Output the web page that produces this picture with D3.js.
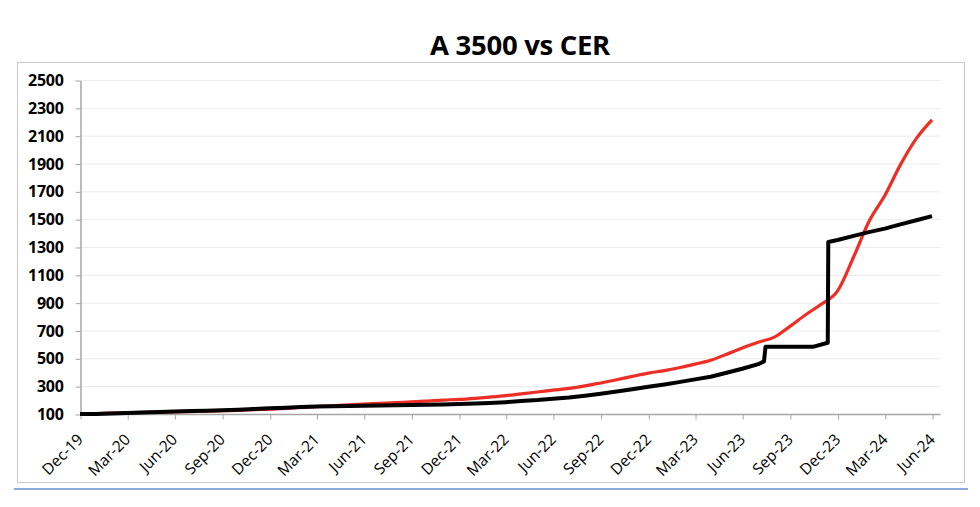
<!DOCTYPE html>
<html>
<head>
<meta charset="utf-8">
<script src="https://cdn.jsdelivr.net/npm/d3@7"></script>
<style>
  body { margin: 0; background: #fff; }
  svg { display: block; }
</style>
</head>
<body>
<svg id="chart" width="980" height="507"></svg>
<script>
// Month-end observations, Dec-19 .. Jun-24
const months = [
  "2019-12",
  "2020-01", "2020-02", "2020-03", "2020-04", "2020-05", "2020-06",
  "2020-07", "2020-08", "2020-09", "2020-10", "2020-11", "2020-12",
  "2021-01", "2021-02", "2021-03", "2021-04", "2021-05", "2021-06",
  "2021-07", "2021-08", "2021-09", "2021-10", "2021-11", "2021-12",
  "2022-01", "2022-02", "2022-03", "2022-04", "2022-05", "2022-06",
  "2022-07", "2022-08", "2022-09", "2022-10", "2022-11", "2022-12",
  "2023-01", "2023-02", "2023-03", "2023-04", "2023-05", "2023-06",
  "2023-07", "2023-08", "2023-09", "2023-10", "2023-11", "2023-12",
  "2024-01", "2024-02", "2024-03", "2024-04", "2024-05", "2024-06"
];

// CER (base 100 = Dec-19)
const cerValues = [
  100,
  103.7, 106.1, 108.2, 111.8, 113.5, 115.2,
  117.7, 119.9, 123.2, 126.6, 131.4, 135.6,
  141.0, 146.7, 152.0, 159.3, 165.8, 171.3,
  176.8, 182.1, 186.6, 193.2, 200.0, 205.0,
  212.8, 221.1, 231.5, 245, 258, 271,
  284, 302, 323, 346, 370, 394,
  412, 432, 458, 486, 530, 575,
  616, 652, 730, 815, 890, 985,
  1230, 1480, 1670, 1890, 2080, 2213
];

// A 3500 (base 100 = Dec-19), dated points so the steps show
const a3500Dates = [
  "2019-12-31",
  "2020-01-31", "2020-02-29", "2020-03-31", "2020-04-30", "2020-05-31", "2020-06-30",
  "2020-07-31", "2020-08-31", "2020-09-30", "2020-10-31", "2020-11-30", "2020-12-31",
  "2021-01-31", "2021-02-28", "2021-03-31", "2021-04-30", "2021-05-31", "2021-06-30",
  "2021-07-31", "2021-08-31", "2021-09-30", "2021-10-31", "2021-11-30", "2021-12-31",
  "2022-01-31", "2022-02-28", "2022-03-31", "2022-04-30", "2022-05-31", "2022-06-30",
  "2022-07-31", "2022-08-31", "2022-09-30", "2022-10-31", "2022-11-30", "2022-12-31",
  "2023-01-31", "2023-02-28", "2023-03-31", "2023-04-30", "2023-05-31", "2023-06-30",
  "2023-07-31", "2023-08-11", "2023-08-14", "2023-11-15", "2023-12-12", "2023-12-13",
  "2023-12-31", "2024-01-31", "2024-02-29", "2024-03-31", "2024-04-30", "2024-05-31",
  "2024-06-30"
];
const a3500Values = [
  100,
  100.7, 103.9, 107.6, 111.6, 114.4, 117.6,
  120.7, 123.8, 127.2, 130.8, 135.7, 140.5,
  145.7, 150.0, 153.6, 156.3, 158.1, 159.8,
  161.4, 163.2, 164.8, 166.5, 168.9, 171.5,
  175.3, 179.8, 185.3, 193.0, 199.8, 209.0,
  219.0, 231.6, 245.9, 261.9, 278.0, 295.7,
  312.0, 329.0, 348.7, 368, 396, 425,
  458, 478, 584, 584, 612, 1336,
  1350, 1380, 1407, 1432, 1463, 1492,
  1522
];

const tickLabels = [
  "Dec-19", "Mar-20", "Jun-20", "Sep-20", "Dec-20", "Mar-21", "Jun-21",
  "Sep-21", "Dec-21", "Mar-22", "Jun-22", "Sep-22", "Dec-22", "Mar-23",
  "Jun-23", "Sep-23", "Dec-23", "Mar-24", "Jun-24"
];
const yTicks = [100, 300, 500, 700, 900, 1100, 1300, 1500, 1700, 1900, 2100, 2300, 2500];

const monthEnd = (d) => d3.timeDay.offset(d3.timeMonth.offset(d, 1), -1);
const parseYM = d3.timeParse("%Y-%m");
const parseLabel = d3.timeParse("%b-%y");
const parseDay = d3.timeParse("%Y-%m-%d");

const cer = months.map((m, i) => ({ date: monthEnd(parseYM(m)), value: cerValues[i] }));
const a3500 = a3500Dates.map((d, i) => ({ date: parseDay(d), value: a3500Values[i] }));
const tickDates = tickLabels.map((l) => monthEnd(parseLabel(l)));

const svg = d3.select("#chart");
const plotLeft = 80, plotRight = 932, gridRight = 940, plotTop = 80, plotBottom = 414;

// outer frame + blue rule underneath
svg.append("rect")
  .attr("x", 17.5).attr("y", 62.5).attr("width", 947).attr("height", 420)
  .attr("fill", "#fff").attr("stroke", "#c8c8c8");
svg.append("line")
  .attr("x1", 14).attr("x2", 968).attr("y1", 489).attr("y2", 489)
  .attr("stroke", "#8eaadb").attr("stroke-width", 2);

svg.append("text")
  .attr("x", 520).attr("y", 55)
  .attr("text-anchor", "middle")
  .attr("font-family", "Open Sans")
  .attr("font-weight", 700)
  .attr("font-size", 27.5)
  .attr("letter-spacing", -0.3)
  .text("A 3500 vs CER");

const x = d3.scaleTime().domain([tickDates[0], tickDates[tickDates.length - 1]]).range([plotLeft, plotRight]);
const y = d3.scaleLinear().domain([100, 2500]).range([plotBottom, plotTop]);

// gridlines
svg.append("g")
  .selectAll("line")
  .data(yTicks.slice(1))
  .enter()
  .append("line")
  .attr("x1", plotLeft).attr("x2", gridRight)
  .attr("y1", (d) => y(d) + 0.5).attr("y2", (d) => y(d) + 0.5)
  .attr("stroke", "#ebebeb");

// y axis
const yAxis = svg.append("g")
  .attr("transform", `translate(${plotLeft + 0.5},0.5)`)
  .call(d3.axisLeft(y).tickValues(yTicks).tickFormat(d3.format("d"))
    .tickSize(5).tickSizeOuter(0).tickPadding(12));
yAxis.select(".domain").attr("stroke", "#a6a6a6").attr("stroke-width", 1.5);
yAxis.selectAll(".tick line").attr("stroke", "#a6a6a6");
yAxis.selectAll(".tick text")
  .attr("font-family", "Open Sans")
  .attr("font-weight", 700)
  .attr("font-size", 16)
  .attr("letter-spacing", -0.3)
  .attr("fill", "#000");

// x axis
const xAxis = svg.append("g")
  .attr("transform", `translate(0.5,${plotBottom + 0.5})`)
  .call(d3.axisBottom(x).tickValues(tickDates).tickSize(5).tickSizeOuter(0)
    .tickFormat((d, i) => tickLabels[i]));
xAxis.select(".domain").attr("d", `M${plotLeft - 0.5},0H${gridRight}`)
  .attr("stroke", "#a6a6a6").attr("stroke-width", 1.5);
xAxis.selectAll(".tick line").attr("stroke", "#a6a6a6");
xAxis.selectAll(".tick text")
  .attr("font-family", "Open Sans")
  .attr("font-size", 15.5)
  .attr("fill", "#000")
  .attr("text-anchor", "end")
  .attr("dy", null)
  .attr("transform", "translate(3,26) rotate(-45)")
  .attr("y", 0);

const line = d3.line()
  .x((d) => x(d.date))
  .y((d) => y(d.value));

svg.append("path")
  .datum(cer)
  .attr("fill", "none")
  .attr("stroke", "#ee2d24")
  .attr("stroke-width", 3.2)
  .attr("stroke-linejoin", "round")
  .attr("d", line.curve(d3.curveMonotoneX));

svg.append("path")
  .datum(a3500)
  .attr("fill", "none")
  .attr("stroke", "#000")
  .attr("stroke-width", 4)
  .attr("stroke-linejoin", "round")
  .attr("d", line.curve(d3.curveLinear));
</script>
</body>
</html>
